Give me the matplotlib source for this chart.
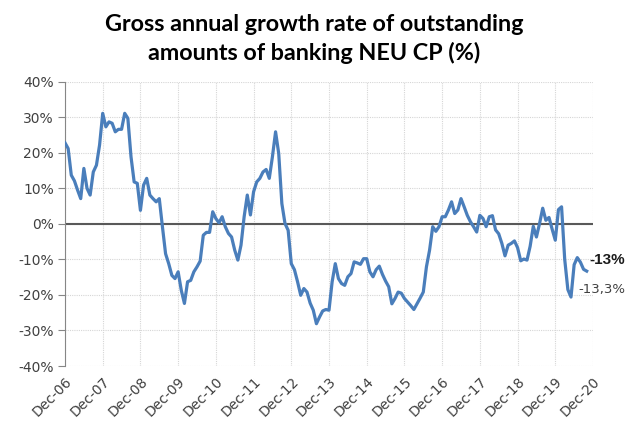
import matplotlib
matplotlib.use("Agg")
import matplotlib.pyplot as plt
from matplotlib.ticker import FixedLocator, FuncFormatter

# ---- data (monthly, Dec-06 .. Oct-20) ----
values = [
    22.8, 21.2, 13.7, 12.1, 9.5, 7.1, 15.6, 10.0, 8.1, 14.6, 16.5, 22.2,
    31.1, 27.3, 28.7, 28.3, 25.9, 26.6, 26.6, 31.1, 29.7, 18.9, 11.8, 11.4,
    3.8, 10.9, 12.8, 8.1, 7.1, 6.2, 7.1, -0.8, -8.4, -11.2, -14.5, -15.4,
    -13.5, -18.7, -22.4, -16.3, -15.9, -13.5, -12.1, -10.5, -3.2, -2.4, -2.4, 3.4,
    1.5, 0.3, 2.0, -0.8, -2.7, -3.7, -7.4, -10.2, -6.0, 2.0, 8.1, 2.5,
    9.0, 11.8, 12.8, 14.6, 15.3, 12.8, 18.9, 25.9, 19.8, 5.7, 0.1, -1.8,
    -11.2, -12.9, -16.3, -20.1, -18.2, -19.2, -22.3, -24.3, -28.1, -26.2, -24.5, -24.1,
    -24.3, -16.3, -11.2, -15.4, -16.8, -17.3, -14.9, -14.0, -10.7, -11.0, -11.4, -9.8,
    -9.8, -13.5, -14.9, -12.9, -11.9, -14.2, -16.1, -17.7, -22.5, -21.0, -19.2, -19.5,
    -21.0, -22.0, -23.0, -24.1, -22.5, -20.9, -19.2, -12.1, -7.4, -0.8, -2.1, -0.8,
    2.0, 2.0, 3.9, 6.2, 2.9, 3.9, 7.1, 4.8, 2.4, 0.6, -0.8, -2.3,
    2.4, 1.5, -0.8, 2.0, 2.3, -1.7, -2.8, -5.5, -9.0, -6.0, -5.5, -4.8,
    -6.7, -10.4, -9.9, -10.2, -6.3, -0.7, -3.7, 0.1, 4.4, 1.0, 1.8, -1.5,
    -4.6, 4.0, 4.8, -10.0, -18.5, -20.6, -11.5, -9.5, -10.8, -12.8, -13.3,
]
tick_labels = ["Dec-06", "Dec-07", "Dec-08", "Dec-09", "Dec-10", "Dec-11", "Dec-12",
               "Dec-13", "Dec-14", "Dec-15", "Dec-16", "Dec-17", "Dec-18", "Dec-19", "Dec-20"]
y_ticks = [40, 30, 20, 10, 0, -10, -20, -30, -40]
label_main = "-13%"
label_last = "-13,3%"
title = "Gross annual growth rate of outstanding\namounts of banking NEU CP (%)"

months = list(range(len(values)))
tick_pos = [12 * i for i in range(len(tick_labels))]

fig = plt.figure(figsize=(6.28, 4.30), dpi=100)
ax = fig.add_axes([65 / 628, 1 - 366 / 430, (593 - 65) / 628, (366 - 81.7) / 430])

line_color = "#4A7EBB"
grid_color = "#D6D6D6"

ax.set_xlim(0, 168)
ax.set_ylim(-40, 40)

ax.xaxis.set_major_locator(FixedLocator(tick_pos))
ax.set_xticklabels(tick_labels, rotation=45, ha="right", rotation_mode="anchor",
                   fontsize=10, color="#404040")
ax.yaxis.set_major_locator(FixedLocator(y_ticks))
ax.yaxis.set_major_formatter(FuncFormatter(lambda v, p: f"{int(v)}%"))
ax.tick_params(axis="y", labelsize=10, labelcolor="#404040", length=5,
               color="#868686", width=0.8, pad=3)
ax.tick_params(axis="x", length=0, pad=6)

ax.grid(True, color=grid_color, linestyle=(0, (1, 1)), linewidth=0.8)
ax.set_axisbelow(True)
for s in ["top", "right", "bottom"]:
    ax.spines[s].set_visible(False)
ax.spines["left"].set_color("#868686")
ax.spines["left"].set_linewidth(0.8)

ax.axhline(0, color="#595959", linewidth=1.5, zorder=2)

ax.plot(months, values, color=line_color, linewidth=2.3, zorder=3,
        solid_joinstyle="round")

ax.annotate(label_main, xy=(months[-1], values[-1]), xycoords="data",
            xytext=(3, 11), textcoords="offset pixels", fontsize=11,
            fontweight="bold", family=["Liberation Sans", "DejaVu Sans"],
            color="#1a1a1a", ha="left", va="center", annotation_clip=False)
ax.annotate(label_last, xy=(months[-1], values[-1]), xycoords="data",
            xytext=(-8, -18), textcoords="offset pixels", fontsize=9.5,
            color="#404040", ha="left", va="center", annotation_clip=False)

fig.text(0.5, 1 - 39 / 430, title, ha="center", va="center", fontsize=16.8,
         fontweight="bold", family=["Lato", "DejaVu Sans"], color="#000000",
         linespacing=1.4)

fig.savefig("out.png", dpi=100, facecolor="white")
